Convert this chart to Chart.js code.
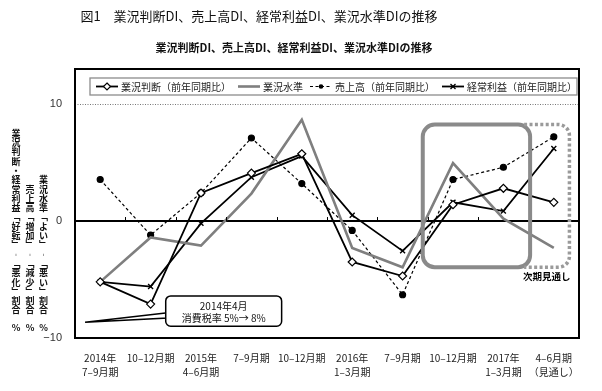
<!DOCTYPE html>
<html>
<head>
<meta charset="utf-8">
<script src="https://cdn.jsdelivr.net/npm/chart.js@4/dist/chart.umd.min.js"></script>
<style>
  html, body { margin: 0; padding: 0; background: #fff; }
  #chart { display: block; }
</style>
</head>
<body>
<canvas id="chart" width="602" height="391"></canvas>
<script>
const categories = [
  ["2014年", "7–9月期"], "10–12月期", ["2015年", "4–6月期"], "7–9月期", "10–12月期",
  ["2016年", "1–3月期"], "7–9月期", "10–12月期", ["2017年", "1–3月期"], ["4–6月期", "（見通し）"]
];
const gyokyoHandan = [-5.2, -7.1, 2.4, 4.1, 5.75, -3.5, -4.7, 1.4, 2.8, 1.6];
const gyokyoSuijun = [-5.2, -1.4, -2.1, 2.35, 8.65, -2.3, -3.95, 4.95, 0.2, -2.3];
const uriagedaka = [3.55, -1.2, 2.4, 7.1, 3.2, -0.8, -6.3, 3.55, 4.6, 7.2];
const keijoRieki = [-5.2, -5.6, -0.2, 3.75, 5.55, 0.5, -2.55, 1.6, 0.85, 6.2];
const yTicks = [-10, 0, 10];

const seriesLabels = ["業況判断（前年同期比）", "業況水準", "売上高（前年同期比）", "経常利益（前年同期比）"];
const yTitleCols = [
  "業況判断・経常利益﹁好転﹂︲﹁悪化﹂割合",
  "売上高﹁増加﹂︲﹁減少﹂割合",
  "業況水準﹁よい﹂︲﹁悪い﹂割合"
];

const JP = '"Noto Sans CJK JP", "Noto Sans", sans-serif';

function roundRect(ctx, x, y, w, h, r) {
  ctx.beginPath();
  ctx.moveTo(x + r, y);
  ctx.lineTo(x + w - r, y);
  ctx.arcTo(x + w, y, x + w, y + r, r);
  ctx.lineTo(x + w, y + h - r);
  ctx.arcTo(x + w, y + h, x + w - r, y + h, r);
  ctx.lineTo(x + r, y + h);
  ctx.arcTo(x, y + h, x, y + h - r, r);
  ctx.lineTo(x, y + r);
  ctx.arcTo(x, y, x + r, y, r);
  ctx.closePath();
}

function drawSample(ctx, ds, x, y, w) {
  ctx.save();
  ctx.strokeStyle = ds.borderColor;
  ctx.lineWidth = ds.borderWidth;
  ctx.setLineDash(ds.borderDash || []);
  ctx.beginPath();
  ctx.moveTo(x, y);
  ctx.lineTo(x + w, y);
  ctx.stroke();
  ctx.setLineDash([]);
  const cx = x + w / 2;
  if (ds.pointStyle === "rectRot") {
    ctx.fillStyle = "#fff";
    ctx.strokeStyle = "#000";
    ctx.lineWidth = 1.2;
    ctx.beginPath();
    ctx.moveTo(cx, y - 3.5); ctx.lineTo(cx + 3.5, y); ctx.lineTo(cx, y + 3.5); ctx.lineTo(cx - 3.5, y);
    ctx.closePath(); ctx.fill(); ctx.stroke();
  } else if (ds.pointStyle === "circle" && ds.pointRadius > 0) {
    ctx.fillStyle = "#000";
    ctx.beginPath(); ctx.arc(cx, y, 2.3, 0, Math.PI * 2); ctx.fill();
  } else if (ds.pointStyle === "crossRot") {
    ctx.strokeStyle = "#000";
    ctx.lineWidth = 1.3;
    ctx.beginPath();
    ctx.moveTo(cx - 2.5, y - 2.5); ctx.lineTo(cx + 2.5, y + 2.5);
    ctx.moveTo(cx + 2.5, y - 2.5); ctx.lineTo(cx - 2.5, y + 2.5);
    ctx.stroke();
  }
  ctx.restore();
}

const decor = {
  id: "decor",
  beforeDraw(chart) {
    const ctx = chart.ctx;
    ctx.save();
    ctx.fillStyle = "#fff";
    ctx.fillRect(0, 0, chart.width, chart.height);
    ctx.restore();
  },
  afterDatasetsDraw(chart) {
    const ctx = chart.ctx;
    const xs = chart.scales.x, ys = chart.scales.y;
    const a = chart.chartArea;
    ctx.save();

    // small ticks on the zero line at category boundaries
    const y0 = ys.getPixelForValue(0);
    ctx.strokeStyle = "#000";
    ctx.lineWidth = 1;
    for (let i = 1; i < categories.length; i++) {
      const x = Math.round(xs.getPixelForValue(i - 0.5)) + 0.5;
      ctx.beginPath(); ctx.moveTo(x, y0); ctx.lineTo(x, y0 - 4); ctx.stroke();
    }

    // gray highlight box
    const gx1 = xs.getPixelForValue(6.4), gx2 = xs.getPixelForValue(8.53);
    const gy1 = ys.getPixelForValue(8.25), gy2 = ys.getPixelForValue(-3.95);
    ctx.strokeStyle = "#8a8a8a";
    ctx.lineWidth = 4;
    roundRect(ctx, gx1, gy1, gx2 - gx1, gy2 - gy1, 12);
    ctx.stroke();

    // dotted outlook box
    const dx1 = gx2, dx2 = xs.getPixelForValue(9.31);
    const r = 11;
    ctx.strokeStyle = "#9a9a9a";
    ctx.lineWidth = 3.5;
    ctx.setLineDash([3, 2.4]);
    ctx.beginPath();
    ctx.moveTo(dx1 - 6, gy1);
    ctx.lineTo(dx2 - r, gy1);
    ctx.arcTo(dx2, gy1, dx2, gy1 + r, r);
    ctx.lineTo(dx2, gy2 - r);
    ctx.arcTo(dx2, gy2, dx2 - r, gy2, r);
    ctx.lineTo(dx1 - 6, gy2);
    ctx.stroke();
    ctx.setLineDash([]);

    ctx.fillStyle = "#000";
    ctx.font = "bold 9.5px " + JP;
    ctx.textAlign = "center";
    ctx.textBaseline = "middle";
    ctx.fillText("次期見通し", xs.getPixelForValue(8.86), ys.getPixelForValue(-4.7));

    // callout
    const bx1 = xs.getPixelForValue(1.3), bx2 = xs.getPixelForValue(3.6);
    const by1 = ys.getPixelForValue(-6.4), by2 = ys.getPixelForValue(-9.0);
    const tipX = xs.getPixelForValue(-0.3), tipY = ys.getPixelForValue(-8.65);
    ctx.fillStyle = "#fff";
    ctx.strokeStyle = "#000";
    ctx.lineWidth = 1.5;
    ctx.beginPath();
    ctx.moveTo(bx1 + 2, ys.getPixelForValue(-7.85));
    ctx.lineTo(tipX, tipY);
    ctx.lineTo(bx1 + 2, ys.getPixelForValue(-8.3));
    ctx.closePath();
    ctx.fill(); ctx.stroke();
    roundRect(ctx, bx1, by1, bx2 - bx1, by2 - by1, 5);
    ctx.fill(); ctx.stroke();
    ctx.fillStyle = "#111";
    ctx.font = "10px " + JP;
    const bcx = (bx1 + bx2) / 2;
    ctx.fillText("2014年4月", bcx, by1 + 10.5);
    ctx.fillText("消費税率 5%→ 8%", bcx, by1 + 22.5);

    // plot frame
    ctx.strokeStyle = "#000";
    ctx.lineWidth = 2;
    ctx.strokeRect(a.left, a.top, a.right - a.left, a.bottom - a.top);
    ctx.restore();
  },
  afterDraw(chart) {
    const ctx = chart.ctx;
    const a = chart.chartArea;
    ctx.save();
    ctx.fillStyle = "#111";
    ctx.textAlign = "center";
    ctx.textBaseline = "middle";
    ctx.font = "13px " + JP;
    ctx.fillText("図1　業況判断DI、売上高DI、経常利益DI、業況水準DIの推移", 259, 16);
    ctx.font = "bold 11px " + JP;
    ctx.fillText("業況判断DI、売上高DI、経常利益DI、業況水準DIの推移", 294, 48);

    // vertical y-axis titles
    ctx.font = "bold 9px " + JP;
    const colX = [16, 30, 43.5];
    const pitch = 9.3, lastRow = 310;
    yTitleCols.forEach((s, c) => {
      const chars = Array.from(s);
      chars.forEach((ch, i) => {
        ctx.fillText(ch, colX[c], lastRow - (chars.length - 1 - i) * pitch);
      });
      ctx.fillText("%", colX[c], lastRow + 18);
    });

    // legend box
    const lx1 = a.left + 15, lx2 = a.right - 2, ly1 = a.top + 9, ly2 = a.top + 26;
    ctx.fillStyle = "#fff";
    ctx.fillRect(lx1, ly1, lx2 - lx1, ly2 - ly1);
    ctx.strokeStyle = "#8c8c8c";
    ctx.lineWidth = 1.3;
    ctx.strokeRect(lx1, ly1, lx2 - lx1, ly2 - ly1);
    const ly = (ly1 + ly2) / 2;
    ctx.font = "10px " + JP;
    ctx.textAlign = "left";
    ctx.fillStyle = "#222";
    let x = lx1 + 6;
    chart.data.datasets.forEach(ds => {
      drawSample(ctx, ds, x, ly, 22);
      x += 25;
      ctx.fillText(ds.label, x, ly + 0.5);
      x += ctx.measureText(ds.label).width + 7;
    });
    ctx.restore();
  }
};

new Chart(document.getElementById("chart"), {
  type: "line",
  data: {
    labels: categories,
    datasets: [
      {
        label: seriesLabels[0], data: gyokyoHandan,
        borderColor: "#000", borderWidth: 1.8,
        pointStyle: "rectRot", pointRadius: 4, pointBorderWidth: 1.2,
        pointBackgroundColor: "#fff", pointBorderColor: "#000", tension: 0
      },
      {
        label: seriesLabels[1], data: gyokyoSuijun,
        borderColor: "#7f7f7f", borderWidth: 2.6,
        pointRadius: 0, tension: 0
      },
      {
        label: seriesLabels[2], data: uriagedaka,
        borderColor: "#000", borderWidth: 1.2, borderDash: [3, 2.5],
        pointStyle: "circle", pointRadius: 3, pointBackgroundColor: "#000", pointBorderColor: "#000", tension: 0
      },
      {
        label: seriesLabels[3], data: keijoRieki,
        borderColor: "#000", borderWidth: 1.8,
        pointStyle: "crossRot", pointRadius: 3.5, pointBorderWidth: 1.4,
        pointBorderColor: "#000", tension: 0
      }
    ]
  },
  options: {
    responsive: false,
    animation: false,
    layout: { padding: { left: 0, top: 69, right: 23, bottom: 0 } },
    plugins: {
      legend: { display: false },
      title: { display: false },
      tooltip: { enabled: false }
    },
    scales: {
      x: {
        offset: true,
        grid: { display: false },
        border: { display: false },
        ticks: {
          maxRotation: 0, autoSkip: false, padding: 5,
          color: "#222",
          font: { family: JP, size: 10, lineHeight: 1.4 }
        },
        afterFit: s => { s.height = 53; }
      },
      y: {
        min: -10, max: 13,
        afterBuildTicks: s => { s.ticks = yTicks.map(v => ({ value: v })); },
        afterFit: s => { s.width = 75; },
        grid: {
          drawTicks: false,
          color: c => c.tick.value === 0 ? "#000" : (c.tick.value === 10 ? "#777" : "rgba(0,0,0,0)"),
          lineWidth: c => c.tick.value === 0 ? 2 : 1
        },
        border: { display: false, dash: c => c.tick && c.tick.value === 10 ? [1, 1.5] : [] },
        ticks: {
          padding: 13, color: "#333",
          font: { family: '"Liberation Sans", Arial, sans-serif', size: 11 },
          callback: v => v < 0 ? "−" + Math.abs(v) : String(v)
        }
      }
    }
  },
  plugins: [decor]
});
</script>
</body>
</html>
